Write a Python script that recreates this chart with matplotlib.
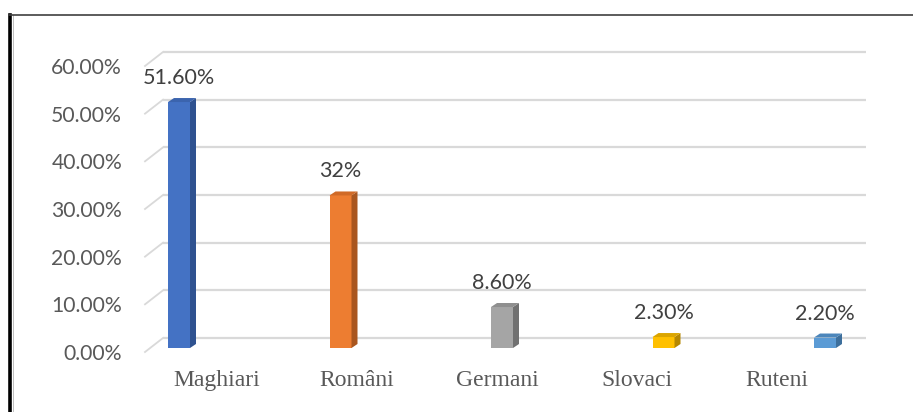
import matplotlib
matplotlib.use("Agg")
import matplotlib.pyplot as plt
from matplotlib.patches import Polygon
from matplotlib.lines import Line2D

categories = ['Maghiari', 'Români', 'Germani', 'Slovaci', 'Ruteni']
values = [51.6, 32.0, 8.6, 2.3, 2.2]
value_labels = ['51.60%', '32%', '8.60%', '2.30%', '2.20%']
front_colors = ['#4472c4', '#ed7d31', '#a5a5a5', '#ffc000', '#5b9bd5']
side_colors = ['#2f5290', '#a9561f', '#717171', '#b58700', '#3d6f9c']
top_colors = ['#3b64ae', '#d06a27', '#8f8f8f', '#dba500', '#4c86bb']
yticks = [0, 10, 20, 30, 40, 50, 60]

W, H = 913, 412
fig = plt.figure(figsize=(W / 100, H / 100), dpi=100)

# pixel geometry of the plot (front plane of the floor)
left, right, y0, y60 = 145, 866, 352, 66
ax = fig.add_axes([left / W, (H - y0) / H, (right - left) / W, (y0 - y60) / H])
xs = 161.5                    # px per category (bars)
ys = (y0 - y60) / 60.0        # px per percent
xmin = -(179 - left) / xs
xmax = xmin + (right - left) / xs
ax.set_xlim(xmin, xmax)
ax.set_ylim(0, 60)

# back wall gridlines + floor diagonals
gdx, gdy = 18 / xs, 14 / ys
for v in yticks:
    ax.plot([xmin + gdx, xmax], [v + gdy, v + gdy], color='#d9d9d9', lw=1.6,
            solid_capstyle='butt', clip_on=False, zorder=1)
    ax.plot([xmin, xmin + gdx], [v, v + gdy], color='#d9d9d9', lw=1.3,
            clip_on=False, zorder=1)

# 3d-ish bars
bw = 22 / xs
ddx, ddy = 6 / xs, 4 / ys
base = 4 / ys
for i, v in enumerate(values):
    ax.bar(i, v, width=bw, bottom=base, color=front_colors[i], zorder=3,
           linewidth=0)
    xr = i + bw / 2
    xl = i - bw / 2
    ax.add_patch(Polygon([(xr, base), (xr, base + v), (xr + ddx, base + v + ddy),
                          (xr + ddx, base + ddy)], closed=True,
                         facecolor=side_colors[i], lw=0, zorder=3))
    ax.add_patch(Polygon([(xl, base + v), (xr, base + v), (xr + ddx, base + v + ddy),
                          (xl + ddx, base + v + ddy)], closed=True,
                         facecolor=top_colors[i], lw=0, zorder=3))
    ax.text(i, base + v + ddy + 20 / ys, value_labels[i], ha='center', va='center',
            fontsize=15.5, family='Lato', color='#404040', zorder=4)

ax.set_yticks(yticks)
ax.set_yticklabels(['%.2f%%' % t for t in yticks], family='Lato', fontsize=15.2,
                   color='#595959')
ax.tick_params(axis='y', length=0, pad=16.5)
ax.set_xticks([])
for s in ax.spines.values():
    s.set_visible(False)

# category labels sit on their own spacing
ax2 = ax.twiny()
lxs = 140
lxmin = -(217 - left) / lxs
ax2.set_xlim(lxmin, lxmin + (right - left) / lxs)
ax2.xaxis.set_ticks_position('bottom')
ax2.xaxis.set_label_position('bottom')
ax2.set_xticks(range(len(categories)))
ax2.set_xticklabels(categories, family='Liberation Serif', fontsize=17,
                    color='#595959')
ax2.tick_params(axis='x', length=0, pad=13)
for s in ax2.spines.values():
    s.set_visible(False)

# chart border (left and top)
fig.add_artist(Line2D([9.5 / W, 9.5 / W], [0, 1 - 15 / H], color='black', lw=2.6))
fig.add_artist(Line2D([12.5 / W, 12.5 / W], [0, 1 - 15 / H], color='#bfbfbf', lw=0.7))
fig.add_artist(Line2D([9 / W, 1], [1 - 15 / H, 1 - 15 / H], color='#404040', lw=1.2))

fig.savefig('out.png', dpi=100)
